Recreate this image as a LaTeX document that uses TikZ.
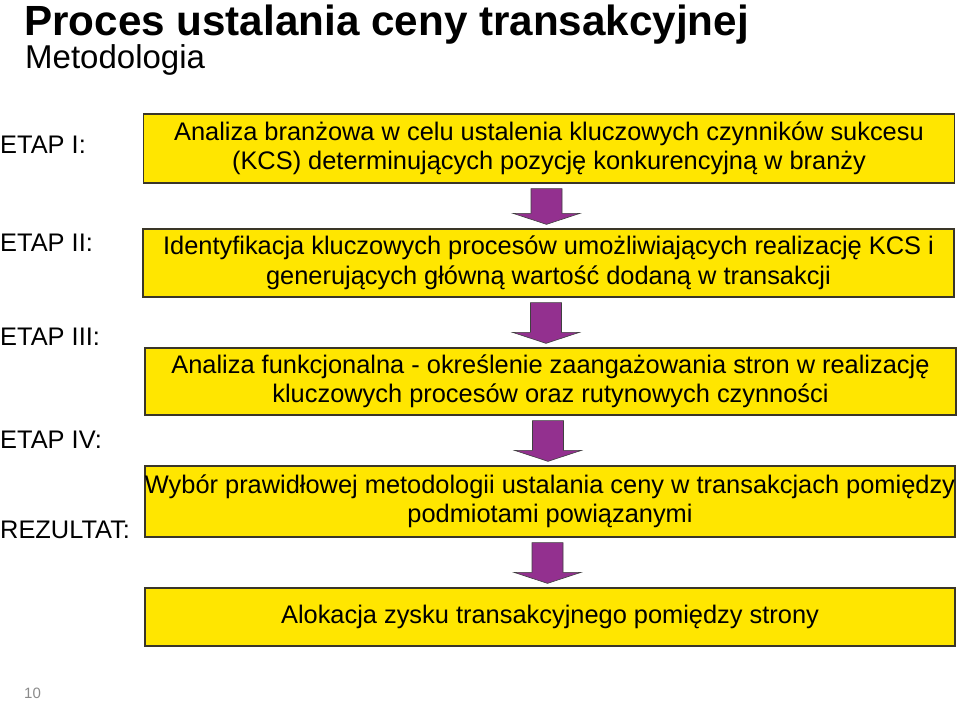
\documentclass[tikz,border=0pt]{standalone}
\usepackage{fontspec}
\setmainfont{Liberation Sans}
\usetikzlibrary{calc}
\definecolor{boxyellow}{HTML}{FFE600}
\definecolor{boxedge}{HTML}{3A3628}
\definecolor{arrowpurple}{HTML}{93308F}
\definecolor{pagegray}{HTML}{8A8A8A}
\newcommand\flowarrow[2]{%
  \path[barrow] let \p1=(#1.south), \p2=(#2.north) in
    (\x1-18pt,\y1-5pt) -- (\x1+13pt,\y1-5pt) -- (\x1+13pt,\y2+15pt) --
    (\x1+31pt,\y2+15pt) -- (\x1-2.5pt,\y2+4pt) -- (\x1-36pt,\y2+15pt) --
    (\x1-18pt,\y2+15pt) -- cycle;}
\begin{document}
\begin{tikzpicture}[x=1pt,y=-1pt,
  stagebox/.style={draw=boxedge,line width=1.3pt,fill=boxyellow,
    minimum width=#1,align=center,inner sep=0pt,
    font=\fontsize{25.4}{29.5}\selectfont},
  stagebox/.default=811pt,
  etap/.style={anchor=west,inner sep=0pt,font=\fontsize{25.4}{29.5}\selectfont},
  barrow/.style={fill=arrowpurple,draw=black!75,line width=0.6pt,line join=miter}]
\useasboundingbox (0,0) rectangle (960,702);
\node[anchor=base west,inner sep=0pt,font=\fontsize{42.2}{46}\bfseries\selectfont] (title) at (24,35) {Proces ustalania ceny transakcyjnej};
\node[anchor=base west,inner sep=0pt,font=\fontsize{33}{38}\selectfont] (sub) at (25,68) {Metodologia};

\node[stagebox,minimum height=69pt] (b1) at (549,148.5) {Analiza branżowa w celu ustalenia kluczowych czynników sukcesu\\(KCS) determinujących pozycję konkurencyjną w branży};
\node[stagebox,minimum height=68pt] (b2) at (548.5,263) {Identyfikacja kluczowych procesów umożliwiających realizację KCS i\\generujących główną wartość dodaną w transakcji};
\node[stagebox,minimum height=67pt] (b3) at (550.5,381.5) {Analiza funkcjonalna - określenie zaangażowania stron w realizację\\kluczowych procesów oraz rutynowych czynności};
\node[stagebox=810pt,minimum height=71pt] (b4) at (550,501.5) {Wybór prawidłowej metodologii ustalania ceny w transakcjach pomiędzy\\podmiotami powiązanymi};
\node[stagebox=810pt,minimum height=58pt] (b5) at (550,617) {Alokacja zysku transakcyjnego pomiędzy strony};

\flowarrow{b1}{b2}
\flowarrow{b2}{b3}
\flowarrow{b3}{b4}
\flowarrow{b4}{b5}

\node[etap] (e1) at (0,145) {ETAP I:};
\node[etap] (e2) at (0,243) {ETAP II:};
\node[etap] (e3) at (0,337) {ETAP III:};
\node[etap] (e4) at (0,440) {ETAP IV:};
\node[etap] (e5) at (0,530) {REZULTAT:};

\node[anchor=west,inner sep=0pt,text=pagegray,font=\fontsize{15}{17}\selectfont] (pg) at (24,693) {10};
\end{tikzpicture}
\end{document}
